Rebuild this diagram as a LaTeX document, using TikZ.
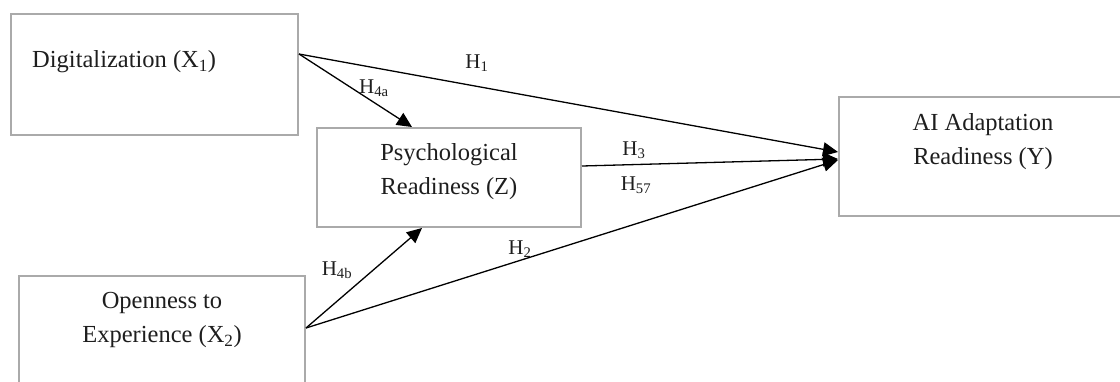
\documentclass[tikz,border=0pt]{standalone}
\usepackage{fontspec}
\setmainfont{Liberation Serif}
\usepackage{xcolor}
\usetikzlibrary{arrows.meta,calc}
\definecolor{varGray}{RGB}{170,170,170}
\definecolor{varText}{RGB}{30,30,30}

\tikzset{
  varbox/.style={draw=varGray, line width=2pt, inner sep=0pt},
  vartext/.style={text=varText, inner sep=0pt, align=center, font=\fontsize{24.5}{34}\selectfont},
  hyp/.style={-{Triangle[length=15pt,width=14pt]}, line width=1.3pt, black},
  hlab/.style={text=varText, inner sep=0pt, font=\fontsize{21}{24}\selectfont}
}

\begin{document}
\begin{tikzpicture}[x=1pt,y=-1pt]
\useasboundingbox (0,0) rectangle (1120,381);
\clip (0,0) rectangle (1120,381);
\node[varbox, minimum width=287, minimum height=121] (dig) at (154.5,74.5) {};
\node[varbox, minimum width=264, minimum height=99] (psy) at (449,177.5) {};
\node[varbox, minimum width=286, minimum height=114] (open) at (162,333) {};
\node[varbox, minimum width=287, minimum height=119] (adapt) at (982.5,156.5) {};
\node[vartext, anchor=west] (digtxt) at (32,62) {Digitalization (X\textsubscript{1})};
\node[vartext] (psytxt) at (449,172) {Psychological\\Readiness (Z)};
\node[vartext] (opentxt) at (162,320) {Openness to\\Experience (X\textsubscript{2})};
\node[vartext] (adapttxt) at (983,142) {AI Adaptation\\Readiness (Y)};
\draw[hyp] ([yshift=-41pt]dig.north east) -- ([yshift=-56pt]adapt.north west);
\draw[hyp] ([yshift=-41pt]dig.north east) -- ([xshift=96pt]psy.north west);
\draw[hyp] ([yshift=-39pt]psy.north east) -- ([yshift=-63pt]adapt.north west);
\draw[hyp] ([yshift=-53pt]open.north east) -- ([yshift=-64pt]adapt.north west);
\draw[hyp] ([yshift=-53pt]open.north east) -- ([xshift=106pt]psy.south west);
\node[hlab] (h1) at (477,63) {H\textsubscript{1}};
\node[hlab] (h4a) at (374,88) {H\textsubscript{4a}};
\node[hlab] (h3) at (634,150) {H\textsubscript{3}};
\node[hlab] (h57) at (636,185) {H\textsubscript{57}};
\node[hlab] (h2) at (520,249) {H\textsubscript{2}};
\node[hlab] (h4b) at (337,270) {H\textsubscript{4b}};
\end{tikzpicture}
\end{document}
